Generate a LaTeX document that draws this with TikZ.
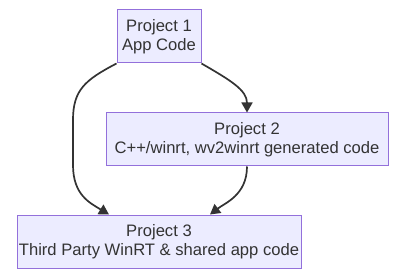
\documentclass[tikz,border=0pt]{standalone}
\usepackage{fontspec}
\setmainfont{Liberation Sans}
\usetikzlibrary{arrows.meta,calc}
\definecolor{boxfill}{HTML}{ECECFF}
\definecolor{boxline}{HTML}{9370DB}
\definecolor{txt}{HTML}{333333}
\definecolor{edge}{HTML}{333333}
\tikzset{
  x=1pt,y=-1pt,
  proj/.style={draw=boxline,fill=boxfill,line width=1pt,inner sep=0pt,align=center,
    text=txt,font=\fontsize{16.6}{18.5}\selectfont,minimum height=53pt},
  link/.style={draw=edge,line width=1.7pt,-{Triangle[length=10pt,width=11pt]}},
}
\begin{document}
\begin{tikzpicture}
\useasboundingbox (0,0) rectangle (405,278);
\node[proj,minimum width=84pt] (p1) at (159,36.5) {Project 1\\App Code};
\node[proj,minimum width=282pt] (p2) at (247,139.5) {Project 2\\C++/winrt, wv2winrt generated code};
\node[proj,minimum width=284pt] (p3) at (159,241.5) {Project 3\\Third Party WinRT \& shared app code};
\draw[link] (p1.south east) .. controls (230,80) and (247,90) .. (p2.north);
\draw[link] (p1.south west) .. controls (85,80) and (73,90) .. (73,120) -- (73,165) .. controls (73,195) and (90,203) .. ([xshift=-50pt]p3.north);
\draw[link] (p2.south) .. controls (247,195) and (225,203) .. ([xshift=51pt]p3.north);
\end{tikzpicture}
\end{document}
